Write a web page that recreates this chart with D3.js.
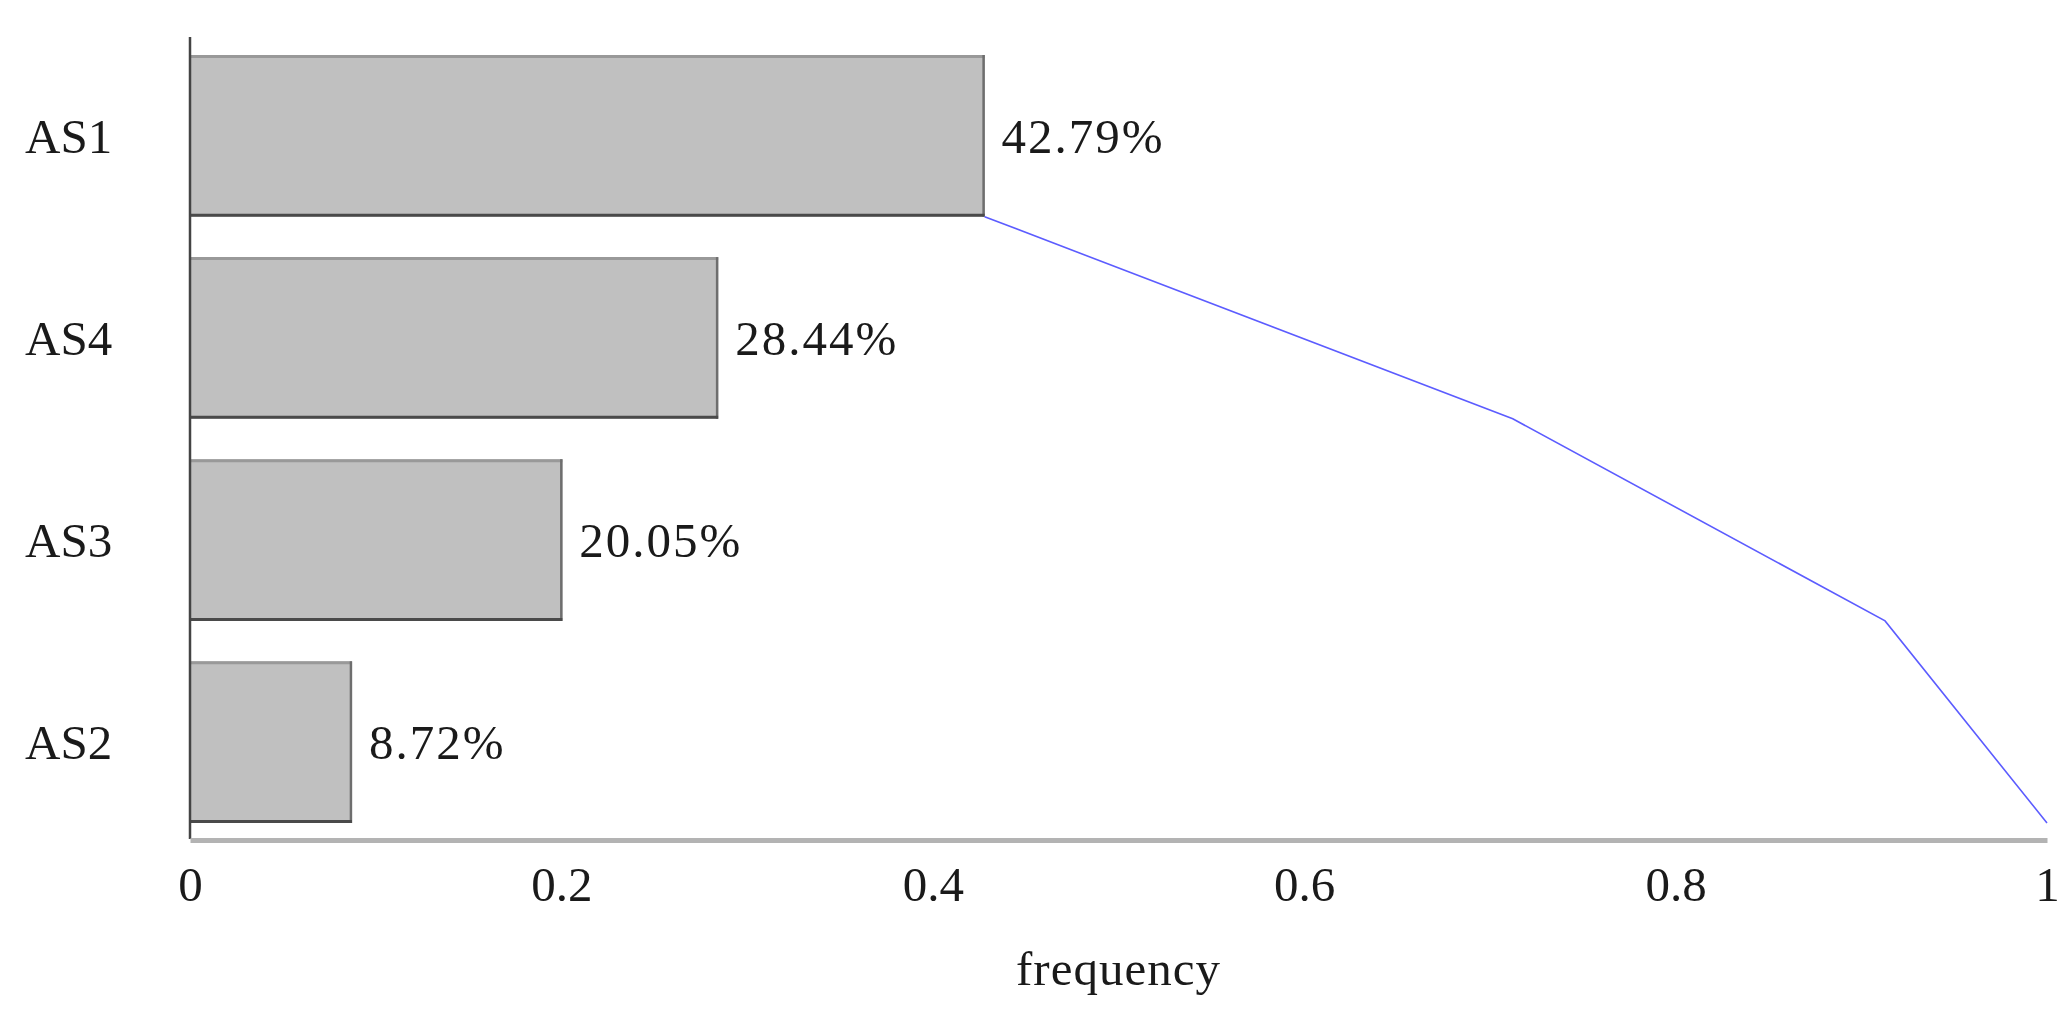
<!DOCTYPE html>
<html>
<head>
<meta charset="utf-8">
<script src="https://cdn.jsdelivr.net/npm/d3@7"></script>
<style>
  html, body { margin: 0; padding: 0; background: #fff; }
  svg { display: block; }
  text { font-family: "Liberation Serif", "Times New Roman", serif; fill: #1a1a1a; }
</style>
</head>
<body>
<script>
const categories = ["AS1", "AS4", "AS3", "AS2"];
const frequencies = [0.4279, 0.2844, 0.2005, 0.0872];
const valueLabels = ["42.79%", "28.44%", "20.05%", "8.72%"];
const xTicks = [0, 0.2, 0.4, 0.6, 0.8, 1];
const xTickLabels = ["0", "0.2", "0.4", "0.6", "0.8", "1"];
const xAxisTitle = "frequency";

const W = 2069, H = 1026;
const fontSize = 49;

const svg = d3.select("body").append("svg").attr("width", W).attr("height", H);

const x = d3.scaleLinear().domain([0, 1]).range([190, 2047]);
const y = d3.scaleBand().domain(categories).range([55, 823]).paddingInner(0.2).paddingOuter(0);

const cumulative = Array.from(d3.cumsum(frequencies));

// bars
const bars = svg.append("g").selectAll("g").data(categories).join("g");
bars.append("rect")
  .attr("x", x(0)).attr("y", d => y(d))
  .attr("width", (d, i) => x(frequencies[i]) - x(0))
  .attr("height", y.bandwidth())
  .attr("fill", "#c0c0c0");
// bevel edges
bars.append("line") // top
  .attr("x1", x(0)).attr("x2", (d, i) => x(frequencies[i]))
  .attr("y1", d => y(d) + 1.5).attr("y2", d => y(d) + 1.5)
  .attr("stroke", "#999").attr("stroke-width", 3);
bars.append("line") // right
  .attr("x1", (d, i) => x(frequencies[i]) - 1).attr("x2", (d, i) => x(frequencies[i]) - 1)
  .attr("y1", d => y(d)).attr("y2", d => y(d) + y.bandwidth())
  .attr("stroke", "#6e6e6e").attr("stroke-width", 2.5);
bars.append("line") // bottom
  .attr("x1", x(0)).attr("x2", (d, i) => x(frequencies[i]))
  .attr("y1", d => y(d) + y.bandwidth() - 1.5).attr("y2", d => y(d) + y.bandwidth() - 1.5)
  .attr("stroke", "#4a4a4a").attr("stroke-width", 3);

// value labels
svg.append("g").selectAll("text").data(categories).join("text")
  .attr("x", (d, i) => x(frequencies[i]) + 17)
  .attr("y", d => y(d) + y.bandwidth() / 2 + 17)
  .attr("font-size", fontSize)
  .attr("letter-spacing", 2)
  .text((d, i) => valueLabels[i]);

// category labels
svg.append("g").selectAll("text").data(categories).join("text")
  .attr("x", 25)
  .attr("y", d => y(d) + y.bandwidth() / 2 + 17)
  .attr("font-size", fontSize)
  .text(d => d);

// y axis line
svg.append("line")
  .attr("x1", x(0)).attr("x2", x(0))
  .attr("y1", 37).attr("y2", 839)
  .attr("stroke", "#444").attr("stroke-width", 2.5);

// x axis
const xAxis = d3.axisBottom(x).tickValues(xTicks).tickFormat((d, i) => xTickLabels[i]).tickSize(0).tickPadding(0);
const gx = svg.append("g").attr("transform", "translate(0,840)").call(xAxis);
gx.select(".domain").attr("stroke", "#b3b3b3").attr("stroke-width", 5);
gx.selectAll("text")
  .attr("font-size", fontSize).attr("font-family", "Liberation Serif, serif").attr("fill", "#1a1a1a")
  .attr("dy", null).attr("y", 61);

// axis title
svg.append("text")
  .attr("x", (x(0) + x(1)) / 2).attr("y", 985)
  .attr("text-anchor", "middle")
  .attr("font-size", fontSize)
  .attr("letter-spacing", 1)
  .text(xAxisTitle);

// pareto line
const line = d3.line().x(d => x(d[0])).y(d => d[1]);
const pts = categories.map((c, i) => [cumulative[i], y(c) + y.bandwidth()]);
svg.append("path")
  .attr("d", line(pts))
  .attr("fill", "none").attr("stroke", "#5c5cff").attr("stroke-width", 1.6);
</script>
</body>
</html>
